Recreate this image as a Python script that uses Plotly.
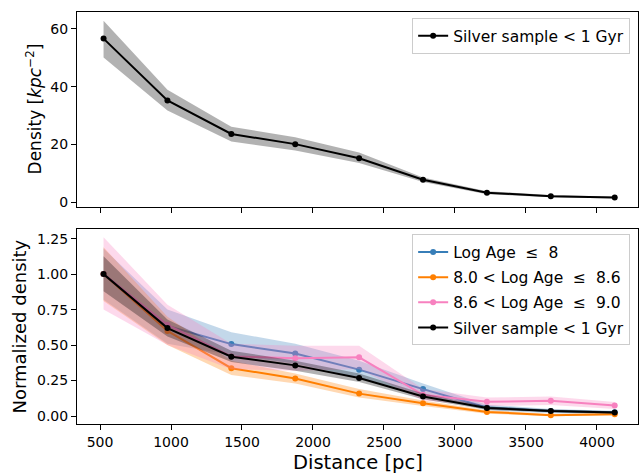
import plotly.graph_objects as go

# ---------------- data ----------------
distance = [525, 975, 1425, 1875, 2325, 2775, 3225, 3675, 4125]

# top panel: silver sample < 1 Gyr
density = [56.6, 35.2, 23.6, 20.1, 15.2, 7.8, 3.3, 2.1, 1.6]
density_hi = [62.8, 38.9, 26.1, 22.5, 17.2, 8.6, 3.8, 2.5, 1.9]
density_lo = [50.1, 31.7, 21.0, 17.9, 13.6, 7.0, 2.8, 1.7, 1.3]

# bottom panel: normalized densities
blue = [1.00, 0.634, 0.507, 0.441, 0.327, 0.190, 0.061, 0.035, 0.026]
blue_hi = [1.18, 0.75, 0.59, 0.51, 0.39, 0.23, 0.08, 0.05, 0.038]
blue_lo = [0.82, 0.51, 0.43, 0.37, 0.27, 0.15, 0.04, 0.02, 0.014]

orange = [1.00, 0.600, 0.337, 0.265, 0.158, 0.090, 0.029, 0.006, 0.013]
orange_hi = [1.19, 0.70, 0.39, 0.30, 0.19, 0.11, 0.041, 0.014, 0.021]
orange_lo = [0.81, 0.50, 0.29, 0.23, 0.13, 0.07, 0.017, -0.002, 0.005]

pink = [1.00, 0.643, 0.420, 0.408, 0.414, 0.150, 0.100, 0.108, 0.074]
pink_hi = [1.26, 0.785, 0.51, 0.495, 0.495, 0.19, 0.13, 0.138, 0.099]
pink_lo = [0.75, 0.50, 0.33, 0.32, 0.33, 0.11, 0.07, 0.078, 0.049]

silver = [1.00, 0.620, 0.418, 0.357, 0.268, 0.138, 0.057, 0.036, 0.025]
silver_hi = [1.125, 0.68, 0.46, 0.39, 0.30, 0.158, 0.069, 0.046, 0.033]
silver_lo = [0.88, 0.56, 0.38, 0.32, 0.24, 0.118, 0.045, 0.026, 0.017]

top_yticks = [0, 20, 40, 60]
bot_yticks = [0.0, 0.25, 0.5, 0.75, 1.0, 1.25]
xticks = [500, 1000, 1500, 2000, 2500, 3000, 3500, 4000]

# ---------------- figure ----------------
FONT = "DejaVu Sans"
fig = go.Figure()


def band(x, lo, hi, color, xa, ya):
    fig.add_trace(go.Scatter(
        x=list(x) + list(x)[::-1], y=list(hi) + list(lo)[::-1],
        fill="toself", fillcolor=color, line=dict(width=0),
        mode="lines", hoverinfo="skip", showlegend=False,
        xaxis=xa, yaxis=ya))


def curve(x, y, color, name, xa, ya, legend):
    fig.add_trace(go.Scatter(
        x=x, y=y, mode="lines+markers", name=name,
        line=dict(color=color, width=2),
        marker=dict(color=color, size=6),
        legendgroup=name + legend,
        xaxis=xa, yaxis=ya, legend=legend))


LE = "\u00a0\u2264\u00a0"

# top panel
band(distance, density_lo, density_hi, "rgba(0,0,0,0.3)", "x", "y")
curve(distance, density, "black", "Silver sample < 1 Gyr", "x", "y", "legend")

# bottom panel
series = [
    (blue, blue_lo, blue_hi, "#377eb8", "rgba(55,126,184,0.3)", "Log Age " + LE + " 8"),
    (orange, orange_lo, orange_hi, "#ff7f00", "rgba(255,127,0,0.3)", "8.0 < Log Age " + LE + " 8.6"),
    (pink, pink_lo, pink_hi, "#f781bf", "rgba(247,129,191,0.3)", "8.6 < Log Age " + LE + " 9.0"),
    (silver, silver_lo, silver_hi, "black", "rgba(0,0,0,0.3)", "Silver sample < 1 Gyr"),
]
for y, lo, hi, c, fc, name in series:
    band(distance, lo, hi, fc, "x2", "y2")
    curve(distance, y, c, name, "x2", "y2", "legend2")

axis_common = dict(
    showline=True, linecolor="black", linewidth=1.1, mirror=True,
    ticks="outside", ticklen=5, tickwidth=1.1, tickcolor="black",
    showgrid=False, zeroline=False, automargin=False,
    tickfont=dict(family=FONT, size=14, color="black"),
)

fig.update_layout(
    width=640, height=473,
    margin=dict(l=77, r=2, t=12, b=49),
    paper_bgcolor="white", plot_bgcolor="white",
    font=dict(family=FONT, color="black"),
    xaxis=dict(domain=[0, 1], range=[338, 4289], tickvals=xticks,
               showticklabels=False, anchor="y", **axis_common),
    yaxis=dict(domain=[0.527, 1], range=[-1.6, 65.8], tickvals=top_yticks,
               anchor="x", **axis_common),
    xaxis2=dict(domain=[0, 1], range=[338, 4289], tickvals=xticks,
                anchor="y2", **axis_common),
    yaxis2=dict(domain=[0, 0.473], range=[-0.056, 1.317], tickvals=bot_yticks,
                tickformat=".2f", anchor="x2", **axis_common),
    legend=dict(x=0.986, y=0.985, xanchor="right", yanchor="top",
                bgcolor="rgba(255,255,255,0.8)", bordercolor="#cccccc",
                borderwidth=1, font=dict(family=FONT, size=15.5, color="black")),
    legend2=dict(x=0.986, y=0.46, xanchor="right", yanchor="top",
                 bgcolor="rgba(255,255,255,0.8)", bordercolor="#cccccc",
                 borderwidth=1, tracegroupgap=2,
                 font=dict(family=FONT, size=15.5, color="black")),
    annotations=[
        dict(text="Density [<i>kpc</i><sup>\u22122</sup>]", xref="paper", yref="paper",
             x=0, y=(0.527 + 1) / 2, xanchor="center", yanchor="middle",
             xshift=-43, textangle=-90, showarrow=False,
             font=dict(family=FONT, size=17, color="black")),
        dict(text="Normalized density", xref="paper", yref="paper",
             x=0, y=0.473 / 2, xanchor="center", yanchor="middle",
             xshift=-57, textangle=-90, showarrow=False,
             font=dict(family=FONT, size=18, color="black")),
        dict(text="Distance [pc]", xref="paper", yref="paper",
             x=0.5, y=0, xanchor="center", yanchor="top",
             yshift=-25, showarrow=False,
             font=dict(family=FONT, size=19.5, color="black")),
    ],
)

fig.write_html(
    "out.html",
    config={"displayModeBar": False},
    post_script="document.body.style.margin='0';document.body.style.overflow='hidden';",
)
